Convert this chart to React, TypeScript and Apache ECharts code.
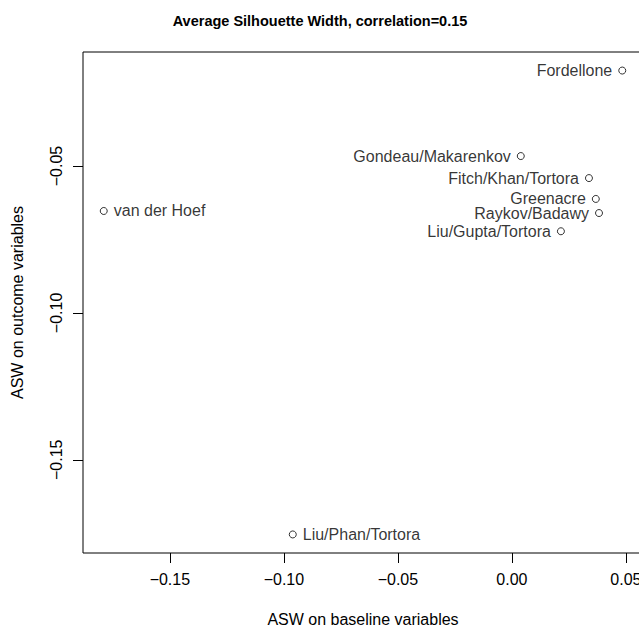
import React, { useEffect, useRef } from "react";
import * as echarts from "echarts";

const pointNames = [
  "Fordellone",
  "Gondeau/Makarenkov",
  "Fitch/Khan/Tortora",
  "Greenacre",
  "Raykov/Badawy",
  "Liu/Gupta/Tortora",
  "van der Hoef",
  "Liu/Phan/Tortora",
];
const baselineASW = [0.0484, 0.0039, 0.0338, 0.0368, 0.0382, 0.0215, -0.179, -0.0961];
const outcomeASW = [-0.0175, -0.0466, -0.0541, -0.0612, -0.066, -0.0722, -0.0653, -0.1754];
const rightLabelled = ["van der Hoef", "Liu/Phan/Tortora"];

const xTicks = [-0.15, -0.1, -0.05, 0, 0.05];
const yTicks = [-0.15, -0.1, -0.05];

const titleText = "Average Silhouette Width, correlation=0.15";
const xTitle = "ASW on baseline variables";
const yTitle = "ASW on outcome variables";

const FONT = "'Liberation Sans', Arial, Helvetica, sans-serif";

const fmt = (v: number) => v.toFixed(2).replace("-", "\u2212");

export default function App() {
  const ref = useRef<HTMLDivElement>(null);
  useEffect(() => {
    if (!ref.current) return;
    const chart = echarts.init(ref.current, null, { renderer: "svg" });
    const xMin = Math.min(...baselineASW);
    const xMax = Math.max(...baselineASW);
    const yMin = Math.min(...outcomeASW);
    const yMax = Math.max(...outcomeASW);
    const xr = (xMax - xMin) * 0.04;
    const yr = (yMax - yMin) * 0.04;
    chart.setOption({
      animation: false,
      backgroundColor: "#fff",
      title: {
        text: titleText,
        left: 315,
        top: 8,
        textAlign: "center",
        textStyle: { fontFamily: FONT, fontSize: 14.5, fontWeight: "bold", color: "#000" },
      },
      grid: {
        left: 83,
        top: 52,
        width: 560,
        height: 501,
        show: true,
        borderColor: "#000",
        borderWidth: 1,
        backgroundColor: "transparent",
      },
      xAxis: {
        type: "value",
        min: xMin - xr,
        max: xMax + xr,
        name: xTitle,
        nameLocation: "middle",
        nameGap: 58,
        nameTextStyle: { fontFamily: FONT, fontSize: 16, color: "#000" },
        axisLine: { show: false, onZero: false },
        axisTick: { show: true, length: 10, customValues: xTicks, lineStyle: { color: "#000", width: 1 } },
        axisLabel: { customValues: xTicks, formatter: fmt, margin: 18, fontFamily: FONT, fontSize: 16, color: "#000" },
        splitLine: { show: false },
      },
      yAxis: {
        type: "value",
        min: yMin - yr,
        max: yMax + yr,
        name: yTitle,
        nameLocation: "middle",
        nameGap: 58,
        nameTextStyle: { fontFamily: FONT, fontSize: 16, color: "#000" },
        axisLine: { show: false, onZero: false },
        axisTick: { show: true, length: 10, customValues: yTicks, lineStyle: { color: "#000", width: 1 } },
        axisLabel: { customValues: yTicks, formatter: fmt, rotate: 90, margin: 19, fontFamily: FONT, fontSize: 16, color: "#000" },
        splitLine: { show: false },
      },
      series: [
        {
          type: "scatter",
          symbol: "circle",
          symbolSize: 7,
          itemStyle: { color: "#fff", borderColor: "#000", borderWidth: 1 },
          label: {
            show: true,
            formatter: "{b}",
            distance: 6,
            fontFamily: FONT,
            fontSize: 16,
            color: "#000",
          },
          emphasis: { disabled: true },
          data: pointNames.map((n, i) => ({
            name: n,
            value: [baselineASW[i], outcomeASW[i]],
            label: { position: rightLabelled.includes(n) ? "right" : "left" },
          })),
        },
      ],
    });
    return () => chart.dispose();
  }, []);
  return (
    <div style={{ position: "absolute", left: 0, top: 0, width: 639, height: 632, overflow: "hidden", background: "#fff" }}>
      <div ref={ref} style={{ width: 648, height: 632 }} />
    </div>
  );
}
